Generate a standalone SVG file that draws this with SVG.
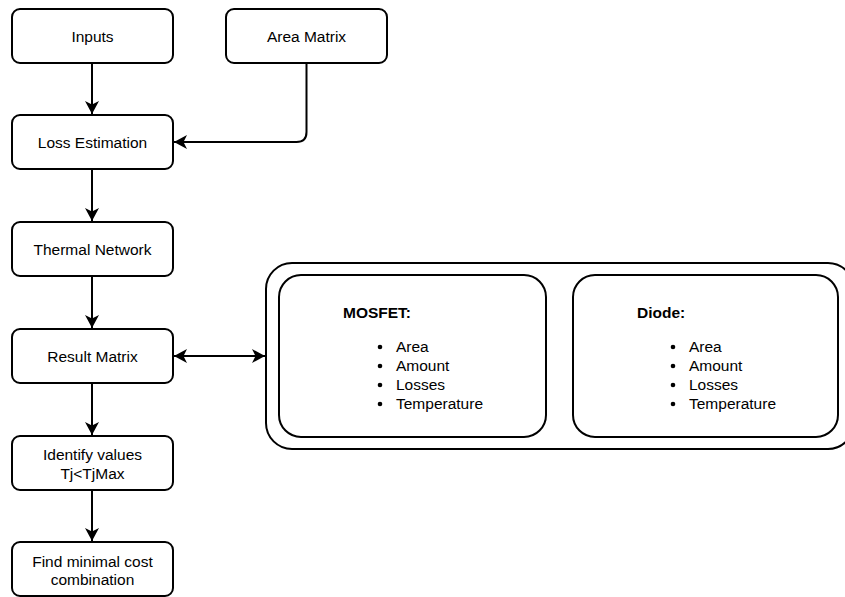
<svg xmlns="http://www.w3.org/2000/svg" width="845" height="597" viewBox="0 0 845 597">
  <style>
    .box { fill: #ffffff; stroke: #000000; stroke-width: 2; }
    .lbl { font-family: "Liberation Sans", Arial, sans-serif; font-size: 15.5px; fill: #000000; text-anchor: middle; }
    .hdr { font-family: "Liberation Sans", Arial, sans-serif; font-size: 15.5px; font-weight: bold; fill: #000000; }
    .item { font-family: "Liberation Sans", Arial, sans-serif; font-size: 15.5px; fill: #000000; }
    .edge { fill: none; stroke: #000000; stroke-width: 2; }
  </style>
  <defs>
    <marker id="arrow" viewBox="0 0 14 14" refX="13" refY="7" markerWidth="14" markerHeight="14" markerUnits="userSpaceOnUse" orient="auto-start-reverse">
      <path d="M13,7 L0,0 L3.5,7 L0,14 Z" fill="#000000"/>
    </marker>
  </defs>
  <rect width="845" height="597" fill="#ffffff"/>

  <!-- flow connectors -->
  <g id="connectors">
    <line class="edge" x1="92" y1="63" x2="92" y2="114" marker-end="url(#arrow)"/>
    <path class="edge" d="M306.5,63 V132 Q306.5,142 296.5,142 H174" marker-end="url(#arrow)"/>
    <line class="edge" x1="92" y1="170" x2="92" y2="221" marker-end="url(#arrow)"/>
    <line class="edge" x1="92" y1="276" x2="92" y2="328" marker-end="url(#arrow)"/>
    <line class="edge" x1="174" y1="356" x2="265" y2="356" marker-start="url(#arrow)" marker-end="url(#arrow)"/>
    <line class="edge" x1="92" y1="383" x2="92" y2="435" marker-end="url(#arrow)"/>
    <line class="edge" x1="92" y1="490" x2="92" y2="541" marker-end="url(#arrow)"/>
  </g>

  <g id="inputs">
    <rect class="box" x="12" y="9" width="161" height="54" rx="8"/>
    <text class="lbl" x="92.5" y="42">Inputs</text>
  </g>
  <g id="area-matrix">
    <rect class="box" x="226" y="9" width="161" height="54" rx="8"/>
    <text class="lbl" x="306.5" y="42">Area Matrix</text>
  </g>
  <g id="loss-estimation">
    <rect class="box" x="12" y="115" width="161" height="54" rx="8"/>
    <text class="lbl" x="92.5" y="148">Loss Estimation</text>
  </g>
  <g id="thermal-network">
    <rect class="box" x="12" y="222" width="161" height="54" rx="8"/>
    <text class="lbl" x="92.5" y="255">Thermal Network</text>
  </g>
  <g id="result-matrix">
    <rect class="box" x="12" y="329" width="161" height="54" rx="8"/>
    <text class="lbl" x="92.5" y="362">Result Matrix</text>
  </g>
  <g id="identify-values">
    <rect class="box" x="12" y="436" width="161" height="54" rx="8"/>
    <text class="lbl" x="92.5" y="460">Identify values</text>
    <text class="lbl" x="92.5" y="479">Tj&lt;TjMax</text>
  </g>
  <g id="find-minimal">
    <rect class="box" x="12" y="542" width="161" height="54" rx="8"/>
    <text class="lbl" x="92.5" y="567">Find minimal cost</text>
    <text class="lbl" x="92.5" y="585">combination</text>
  </g>

  <!-- result container with the two device panels -->
  <g id="result-container">
    <rect class="box" x="266" y="263" width="588" height="186" rx="26"/>
  </g>
  <g id="mosfet">
    <rect class="box" x="279" y="275" width="267" height="162" rx="22"/>
    <text class="hdr" x="343" y="318">MOSFET:</text>
    <g class="item">
      <circle cx="380" cy="347" r="2.3"/>
      <circle cx="380" cy="366" r="2.3"/>
      <circle cx="380" cy="385" r="2.3"/>
      <circle cx="380" cy="404" r="2.3"/>
      <text x="396" y="352">Area</text>
      <text x="396" y="371">Amount</text>
      <text x="396" y="390">Losses</text>
      <text x="396" y="409">Temperature</text>
    </g>
  </g>
  <g id="diode">
    <rect class="box" x="573" y="275" width="265" height="162" rx="22"/>
    <text class="hdr" x="637" y="318">Diode:</text>
    <g class="item">
      <circle cx="673" cy="347" r="2.3"/>
      <circle cx="673" cy="366" r="2.3"/>
      <circle cx="673" cy="385" r="2.3"/>
      <circle cx="673" cy="404" r="2.3"/>
      <text x="689" y="352">Area</text>
      <text x="689" y="371">Amount</text>
      <text x="689" y="390">Losses</text>
      <text x="689" y="409">Temperature</text>
    </g>
  </g>
</svg>
